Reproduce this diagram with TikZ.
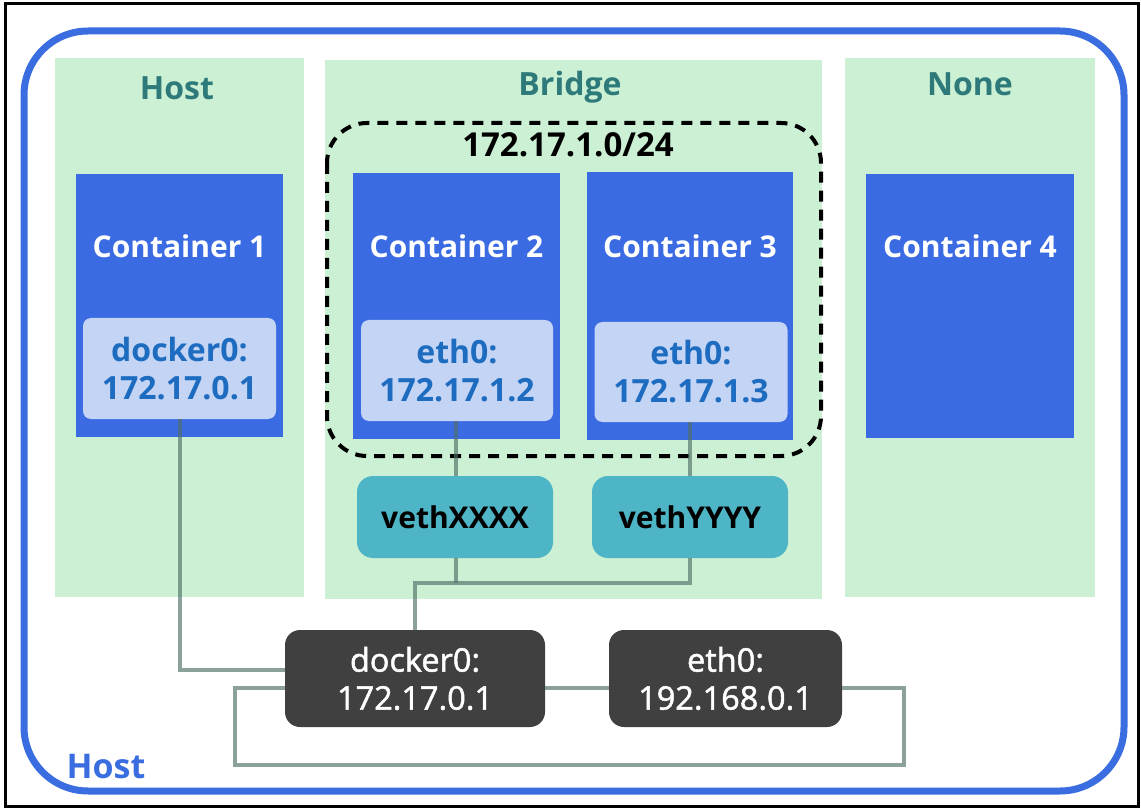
\documentclass[tikz,border=0pt]{standalone}
\usepackage{fontspec}
\setmainfont{Open Sans}
\newfontfamily\darkfont{Open Sans}[FakeBold=1.5]
\definecolor{frameblue}{HTML}{3A6DE0}
\definecolor{panelgreen}{HTML}{CCF0D4}
\definecolor{titleteal}{HTML}{2E7A7A}
\definecolor{contblue}{HTML}{3B6BE3}
\definecolor{ifacefill}{HTML}{C4D4F5}
\definecolor{ifacetext}{HTML}{1D6CC0}
\definecolor{vethteal}{HTML}{4DB5C5}
\definecolor{darkbox}{HTML}{404040}
\definecolor{wirecol}{HTML}{4F6F66}
\begin{document}
\begin{tikzpicture}[x=1pt,y=-1pt,
  panel/.style={fill=panelgreen,draw=none,inner sep=0pt,outer sep=0pt},
  ptitle/.style={text=titleteal,font=\bfseries\fontsize{32}{36}\selectfont,anchor=base,inner sep=0pt},
  cont/.style={fill=contblue,draw=none,inner sep=0pt,outer sep=0pt},
  ctitle/.style={text=white,font=\bfseries\fontsize{30}{34}\selectfont,anchor=base,inner sep=0pt},
  iface/.style={fill=ifacefill,rounded corners=8pt,inner sep=0pt,outer sep=0pt,align=center,text=ifacetext,font=\bfseries\fontsize{32}{38}\selectfont},
  vethbox/.style={fill=vethteal,rounded corners=16pt,inner sep=0pt,outer sep=0pt,text=black,font=\bfseries\fontsize{30}{34}\selectfont},
  hostif/.style={fill=darkbox,rounded corners=15pt,inner sep=0pt,outer sep=0pt,text=white,align=center,font=\darkfont\fontsize{32.5}{38}\selectfont},
  wire/.style={draw=wirecol,line width=4pt,draw opacity=0.65}
]
\useasboundingbox (0,0) rectangle (1141,810);
% outer frames
\draw[line width=3pt] (5.5,3.5) rectangle (1138.5,806);
\draw[line width=7pt,draw=frameblue,rounded corners=64pt] (24,31) rectangle (1124,791);
\node[text=frameblue,font=\bfseries\fontsize{34}{38}\selectfont,anchor=base,inner sep=0pt] (hostlbl) at (106,778) {Host};

% panels
\node[panel,minimum width=249pt,minimum height=539pt] (phost) at (179.5,327.5) {};
\node[panel,minimum width=497pt,minimum height=539pt] (pbridge) at (573.5,329.5) {};
\node[panel,minimum width=250pt,minimum height=539pt] (pnone) at (970,327.5) {};
\node[ptitle] (thost) at (177,100) {Host};
\node[ptitle] (tbridge) at (570,96) {Bridge};
\node[ptitle] (tnone) at (970,96) {None};

% subnet
\draw[line width=4pt,dash pattern=on 11pt off 8pt,rounded corners=40pt] (327,123) rectangle (821,456);
\node[font=\bfseries\fontsize{33}{36}\selectfont,anchor=base,inner sep=0pt] (subnet) at (568,157) {172.17.1.0/24};

% containers
\node[cont,minimum width=207pt,minimum height=263pt] (c1) at (179.5,305.5) {};
\node[cont,minimum width=207pt,minimum height=266pt] (c2) at (456.5,306) {};
\node[cont,minimum width=206pt,minimum height=268pt] (c3) at (690,306) {};
\node[cont,minimum width=208pt,minimum height=264pt] (c4) at (970,306) {};
\node[ctitle] (tc1) at (179.5,258) {Container 1};
\node[ctitle] (tc2) at (456.5,258) {Container 2};
\node[ctitle] (tc3) at (690,258) {Container 3};
\node[ctitle] (tc4) at (970,258) {Container 4};

% interfaces
\node[iface,minimum width=193pt,minimum height=101pt] (if1) at (179.5,368.5) {docker0:\\172.17.0.1};
\node[iface,minimum width=192pt,minimum height=101pt] (if2) at (457,370.5) {eth0:\\172.17.1.2};
\node[iface,minimum width=193pt,minimum height=100pt] (if3) at (691,372) {eth0:\\172.17.1.3};

% veths
\node[vethbox,minimum width=196pt,minimum height=82pt] (vx) at (455,517) {vethXXXX};
\node[vethbox,minimum width=196pt,minimum height=82pt] (vy) at (690,517) {vethYYYY};

% host interfaces
\node[hostif,minimum width=260pt,minimum height=97pt] (h0) at (415,678.5) {docker0:\\172.17.0.1};
\node[hostif,minimum width=233pt,minimum height=97pt] (e0) at (725.5,678.5) {eth0:\\192.168.0.1};

% helper coordinates
\coordinate (y583) at (0,583);
\coordinate (y670) at (0,670);
\coordinate (y688) at (0,688);
\coordinate (lpA) at (235,765);
\coordinate (lpB) at (904,765);

% wires
\draw[wire] (if1.south) |- (h0.west |- y670);
\draw[wire] (if2.south -| 456,0) -- (vx.north -| 456,0);
\draw[wire] (if3.south -| vy.north) -- (vy.north);
\draw[wire] (vx.south -| 456,0) -- (456,583);
\draw[wire] (vy.south) |- (h0.north |- y583) -- (h0.north);
\draw[wire] (h0.east |- y688) -- (e0.west |- y688);
\draw[wire] (h0.west |- y688) -| (lpA) -- (lpB) |- (e0.east |- y688);
\end{tikzpicture}
\end{document}
